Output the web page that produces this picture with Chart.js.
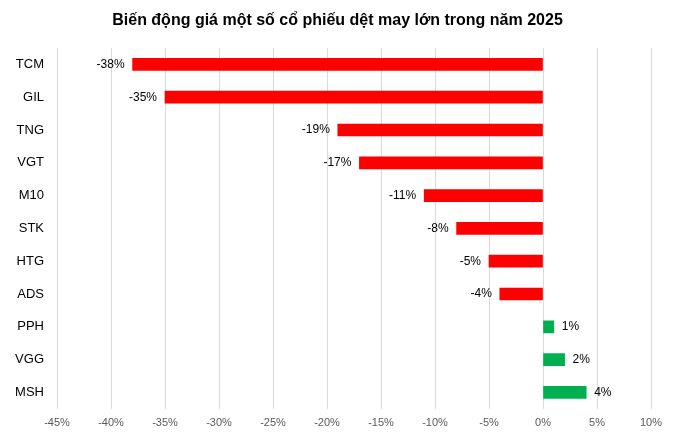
<!DOCTYPE html>
<html>
<head>
<meta charset="utf-8">
<script src="https://cdn.jsdelivr.net/npm/chart.js@4/dist/chart.umd.min.js"></script>
<style>
  html, body { margin: 0; padding: 0; background: #fff; }
  #wrap { width: 675px; height: 439px; }
</style>
</head>
<body>
<div id="wrap"><canvas id="chart"></canvas></div>
<script>
// --- Data ---
const chartTitle = "Biến động giá một số cổ phiếu dệt may lớn trong năm 2025";
const tickers = ["TCM", "GIL", "TNG", "VGT", "M10", "STK", "HTG", "ADS", "PPH", "VGG", "MSH"];
const changes = [-38, -35, -19, -17, -11, -8, -5, -4, 1, 2, 4];
const xTicks = [-45, -40, -35, -30, -25, -20, -15, -10, -5, 0, 5, 10];

const barColors = changes.map(v => v < 0 ? "#FF0000" : "#00B050");

// title centred on the whole canvas, drawn by hand
const pageTitle = {
    id: "pageTitle",
    afterDraw(chart) {
        const ctx = chart.ctx;
        ctx.save();
        ctx.font = "bold 16px 'Liberation Sans', Arial, sans-serif";
        ctx.fillStyle = "#000";
        ctx.textAlign = "center";
        ctx.textBaseline = "middle";
        ctx.fillText(chartTitle, chart.width / 2, 21);
        ctx.restore();
    }
};

// value labels next to each bar end
const barLabels = {
    id: "barLabels",
    afterDatasetsDraw(chart) {
        const ctx = chart.ctx;
        const meta = chart.getDatasetMeta(0);
        ctx.save();
        ctx.font = "12px 'Liberation Sans', Arial, sans-serif";
        ctx.fillStyle = "#000";
        ctx.textBaseline = "middle";
        meta.data.forEach((bar, i) => {
            const v = changes[i];
            if (v < 0) {
                ctx.textAlign = "right";
                ctx.fillText(v + "%", bar.x - 8, bar.y);
            } else {
                ctx.textAlign = "left";
                ctx.fillText(v + "%", bar.x + 8, bar.y);
            }
        });
        ctx.restore();
    }
};

new Chart(document.getElementById("chart"), {
    type: "bar",
    data: {
        labels: tickers,
        datasets: [{
            data: changes,
            backgroundColor: barColors,
            barThickness: 12
        }]
    },
    options: {
        indexAxis: "y",
        responsive: true,
        maintainAspectRatio: false,
        animation: false,
        layout: { padding: { left: 0, right: 24, top: 48, bottom: 1 } },
        plugins: {
            legend: { display: false },
            tooltip: { enabled: false },
            title: { display: false }
        },
        scales: {
            x: {
                min: -45,
                max: 10,
                afterBuildTicks: axis => { axis.ticks = xTicks.map(v => ({ value: v })); },
                grid: { color: "#D9D9D9", drawTicks: false },
                border: { display: false },
                ticks: {
                    padding: 8,
                    color: "#595959",
                    font: { family: "'Liberation Sans', Arial, sans-serif", size: 11 },
                    callback: v => v + "%"
                }
            },
            y: {
                grid: { display: false, drawTicks: false },
                border: { display: false },
                afterFit: axis => { axis.width = 57; },
                ticks: {
                    padding: 13,
                    color: "#000",
                    font: { family: "'Liberation Sans', Arial, sans-serif", size: 13 }
                }
            }
        }
    },
    plugins: [barLabels, pageTitle]
});
</script>
</body>
</html>
